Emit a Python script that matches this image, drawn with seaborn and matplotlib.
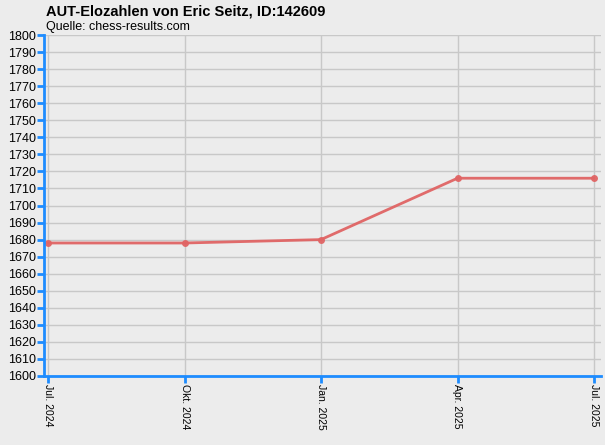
import matplotlib
matplotlib.use("Agg")
import matplotlib.pyplot as plt
import seaborn as sns
import pandas as pd

# Elo history
dates = ["Jul. 2024", "Okt. 2024", "Jan. 2025", "Apr. 2025", "Jul. 2025"]
elo = [1678, 1678, 1680, 1716, 1716]
yticks = list(range(1600, 1801, 10))

BG = "#ececec"
BLUE = "#1e8cff"
LINE = "#e06464"

sns.set_theme(style="whitegrid")
plt.rcParams["font.family"] = ["Liberation Sans", "DejaVu Sans"]

df = pd.DataFrame({"pos": range(len(dates)), "elo": elo})

fig = plt.figure(figsize=(6.05, 4.45), dpi=100, facecolor=BG)
ax = fig.add_axes([44 / 605, 1 - 376 / 445, (601 - 44) / 605, (376 - 35) / 445])
ax.set_facecolor(BG)

sns.lineplot(data=df, x="pos", y="elo", ax=ax, color=LINE, linewidth=2,
             marker="o", markersize=5, markeredgewidth=0, alpha=0.95)

ax.set_xlim(-4 / 136.5, 4 + 7 / 136.5)
ax.set_ylim(1600, 1800)
ax.set_xticks(range(len(dates)))
ax.set_xticklabels(dates, rotation=270, fontsize=7.5, va="top", ha="center")
ax.set_yticks(yticks)
ax.set_yticklabels([str(v) for v in yticks], fontsize=9)
ax.set_xlabel("")
ax.set_ylabel("")

ax.grid(True, color="#c8c8c8", linewidth=1)
for side in ["top", "right"]:
    ax.spines[side].set_visible(False)
for side in ["left", "bottom"]:
    ax.spines[side].set_color(BLUE)
    ax.spines[side].set_linewidth(2)
ax.tick_params(axis="both", colors=BLUE, labelcolor="black", length=5,
               width=2, direction="out", pad=1, bottom=True, left=True)

fig.text(46 / 605, 1 - 12 / 445, "AUT-Elozahlen von Eric Seitz, ID:142609",
         fontsize=10.5, fontweight="bold", va="center", ha="left", color="black")
fig.text(46 / 605, 1 - 27 / 445, "Quelle: chess-results.com",
         fontsize=9, va="center", ha="left", color="black")

fig.savefig("out.png", dpi=100, facecolor=BG)
